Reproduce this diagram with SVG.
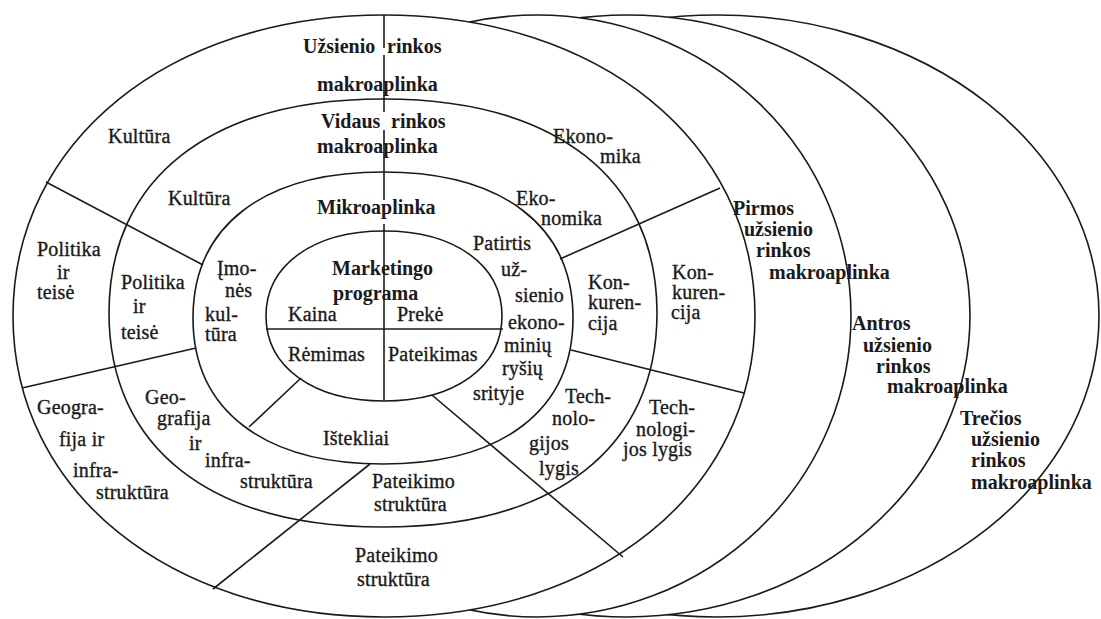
<svg xmlns="http://www.w3.org/2000/svg" width="1101" height="619" viewBox="0 0 1101 619">
  <style>
    .ring { fill: #ffffff; stroke: #1a1a1a; stroke-width: 1.6; }
    .div { stroke: #1a1a1a; stroke-width: 1.6; fill: none; }
    text { font-family: "Liberation Serif", "Times New Roman", serif; font-size: 20px; fill: #1a1a1a; }
    .b { font-weight: bold; }
    .r { stroke: #1a1a1a; stroke-width: 0.35; letter-spacing: 0.2px; }
  </style>
  <rect width="1101" height="619" fill="#ffffff"/>

  <!-- foreign market crescents, back to front -->
  <g id="ring-treciu">
    <ellipse class="ring" cx="717" cy="316" rx="382" ry="301"/>
  </g>
  <g id="ring-antru">
    <ellipse class="ring" cx="627" cy="316" rx="343" ry="301"/>
  </g>
  <g id="ring-pirmu">
    <ellipse class="ring" cx="537" cy="316" rx="314" ry="301"/>
  </g>

  <!-- concentric environment rings (slightly squared ovals) -->
  <g id="ring-uzsienio">
    <path class="ring" d="M755,316 C755,490.6 599.2,617 384,617 C168.8,617 13,490.6 13,316 C13,141.4 168.8,15 384,15 C599.2,15 755,141.4 755,316 Z"/>
  </g>
  <g id="ring-vidaus">
    <path class="ring" d="M657,313 C657,447.8 555.6,527 383,527 C210.4,527 109,447.8 109,313 C109,178.2 210.4,99 383,99 C555.6,99 657,178.2 657,313 Z"/>
  </g>
  <g id="ring-mikro">
    <path class="ring" d="M573,318 C573,410 502.7,464 383,464 C263.3,464 193,410 193,318 C193,226 263.3,172 383,172 C502.7,172 573,226 573,318 Z"/>
  </g>
  <g id="ring-marketingo">
    <path class="ring" d="M502,316 C502,367 454.8,401 384,401 C313.2,401 266,367 266,316 C266,265 313.2,231 384,231 C454.8,231 502,265 502,316 Z"/>
  </g>

  <!-- sector dividers -->
  <g id="connectors">
    <line class="div" x1="384" y1="15" x2="384" y2="48"/>
    <line class="div" x1="384" y1="55" x2="384" y2="112"/>
    <line class="div" x1="384" y1="130" x2="384" y2="200"/>
    <line class="div" x1="384" y1="224" x2="384" y2="401"/>
    <line class="div" x1="266" y1="329" x2="503" y2="329"/>
    <line class="div" x1="46" y1="182" x2="203" y2="265"/>
    <line class="div" x1="22" y1="388" x2="196" y2="348"/>
    <line class="div" x1="301" y1="378" x2="249" y2="427"/>
    <line class="div" x1="432" y1="395" x2="623" y2="557"/>
    <line class="div" x1="370" y1="464" x2="213" y2="589"/>
    <line class="div" x1="560" y1="259" x2="720" y2="188"/>
    <line class="div" x1="571" y1="350" x2="744" y2="393"/>
  </g>

  <!-- foreign macro-environment ring labels -->
  <g id="labels-uzsienio">
    <text class="b" x="303" y="53">Užsienio</text>
    <text class="b" x="387" y="53">rinkos</text>
    <text class="b" x="317" y="91">makroaplinka</text>
    <text class="r" x="108" y="143">Kultūra</text>
    <text class="r" x="553" y="143">Ekono-</text>
    <text class="r" x="600" y="163">mika</text>
    <text class="r" x="37" y="256">Politika</text>
    <text class="r" x="57" y="279">ir</text>
    <text class="r" x="37" y="299">teisė</text>
    <text class="r" x="37" y="414">Geogra-</text>
    <text class="r" x="59" y="446">fija ir</text>
    <text class="r" x="73" y="477">infra-</text>
    <text class="r" x="96" y="499">struktūra</text>
    <text class="r" x="355" y="562">Pateikimo</text>
    <text class="r" x="357" y="586">struktūra</text>
    <text class="r" x="672" y="279">Kon-</text>
    <text class="r" x="672" y="299">kuren-</text>
    <text class="r" x="671" y="319">cija</text>
    <text class="r" x="649" y="414">Tech-</text>
    <text class="r" x="636" y="436">nologi-</text>
    <text class="r" x="623" y="456">jos lygis</text>
  </g>

  <!-- domestic macro-environment ring labels -->
  <g id="labels-vidaus">
    <text class="b" x="321" y="128">Vidaus</text>
    <text class="b" x="391" y="128">rinkos</text>
    <text class="b" x="317" y="153">makroaplinka</text>
    <text class="r" x="168" y="205">Kultūra</text>
    <text class="r" x="121" y="289">Politika</text>
    <text class="r" x="133" y="313">ir</text>
    <text class="r" x="121" y="339">teisė</text>
    <text class="r" x="145" y="404">Geo-</text>
    <text class="r" x="157" y="425">grafija</text>
    <text class="r" x="189" y="450">ir</text>
    <text class="r" x="205" y="467">infra-</text>
    <text class="r" x="240" y="488">struktūra</text>
    <text class="r" x="372" y="488">Pateikimo</text>
    <text class="r" x="374" y="511">struktūra</text>
    <text class="r" x="516" y="205">Eko-</text>
    <text class="r" x="541" y="225">nomika</text>
    <text class="r" x="588" y="289">Kon-</text>
    <text class="r" x="588" y="309">kuren-</text>
    <text class="r" x="588" y="330">cija</text>
    <text class="r" x="565" y="403">Tech-</text>
    <text class="r" x="552" y="425">nolo-</text>
    <text class="r" x="529" y="450">gijos</text>
    <text class="r" x="539" y="475">lygis</text>
  </g>

  <!-- micro-environment ring labels -->
  <g id="labels-mikro">
    <text class="b" x="317" y="214">Mikroaplinka</text>
    <text class="r" x="217" y="275">Įmo-</text>
    <text class="r" x="225" y="297">nės</text>
    <text class="r" x="205" y="321">kul-</text>
    <text class="r" x="205" y="341">tūra</text>
    <text class="r" x="473" y="250">Patirtis</text>
    <text class="r" x="501" y="276">už-</text>
    <text class="r" x="515" y="302">sienio</text>
    <text class="r" x="508" y="329">ekono-</text>
    <text class="r" x="504" y="352">minių</text>
    <text class="r" x="502" y="375">ryšių</text>
    <text class="r" x="473" y="400">srityje</text>
    <text class="r" x="323" y="445">Ištekliai</text>
  </g>

  <!-- marketing programme core -->
  <g id="labels-marketingo">
    <text class="b" x="332" y="275">Marketingo</text>
    <text class="b" x="333" y="300">programa</text>
    <text class="r" x="288" y="321">Kaina</text>
    <text class="r" x="397" y="321">Prekė</text>
    <text class="r" x="288" y="361">Rėmimas</text>
    <text class="r" x="388" y="361">Pateikimas</text>
  </g>

  <!-- crescent labels -->
  <g id="labels-pirmos">
    <text class="b" x="733" y="215">Pirmos</text>
    <text class="b" x="744" y="236">užsienio</text>
    <text class="b" x="756" y="257">rinkos</text>
    <text class="b" x="769" y="279">makroaplinka</text>
  </g>
  <g id="labels-antros">
    <text class="b" x="852" y="330">Antros</text>
    <text class="b" x="863" y="352">užsienio</text>
    <text class="b" x="876" y="373">rinkos</text>
    <text class="b" x="887" y="393">makroaplinka</text>
  </g>
  <g id="labels-trecios">
    <text class="b" x="960" y="425">Trečios</text>
    <text class="b" x="971" y="446">užsienio</text>
    <text class="b" x="971" y="467">rinkos</text>
    <text class="b" x="971" y="489">makroaplinka</text>
  </g>
</svg>
